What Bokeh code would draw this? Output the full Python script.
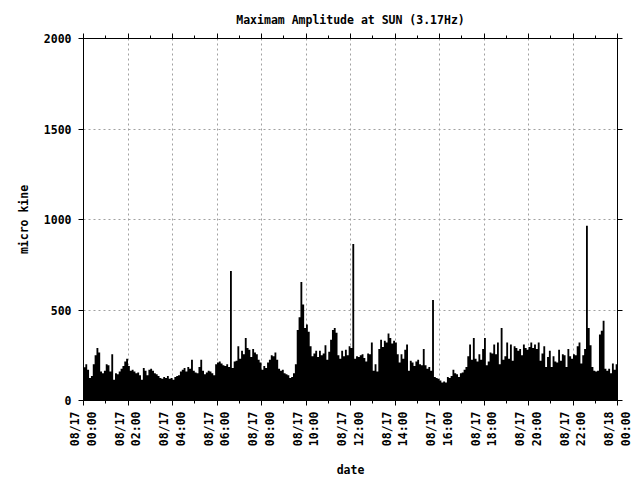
from bokeh.plotting import figure
from bokeh.models import FixedTicker, LinearAxis, Range1d, Grid, ColumnDataSource
from bokeh.embed import file_html
from bokeh.resources import INLINE

# ---- data (maximum amplitude, micro kine, one value per 5 minutes) ----
interval_min = 5
amp_00_06 = [184, 200, 170, 125, 135, 200, 250, 290, 265, 160, 150, 165,
             200, 195, 160, 255, 115, 150, 145, 160, 175, 190, 215, 230,
             190, 165, 170, 160, 150, 155, 140, 115, 180, 165, 140, 170,
             175, 165, 150, 145, 135, 125, 120, 130, 125, 135, 120, 125,
             115, 130, 135, 140, 160, 170, 180, 160, 185, 175, 225, 165,
             155, 150, 185, 225, 165, 145, 155, 165, 160, 150, 140, 200]
amp_06_12 = [210, 215, 205, 195, 190, 200, 185, 715, 180, 215, 220, 300,
             230, 275, 255, 345, 290, 280, 240, 285, 265, 255, 225, 210,
             170, 190, 180, 210, 225, 250, 245, 265, 225, 175, 165, 170,
             150, 145, 140, 125, 130, 150, 200, 390, 460, 655, 530, 400,
             420, 380, 300, 245, 260, 275, 240, 275, 250, 260, 305, 225,
             270, 335, 390, 400, 375, 250, 230, 275, 245, 280, 250, 300]
amp_12_18 = [290, 865, 230, 245, 240, 250, 255, 235, 215, 260, 255, 320,
             165, 200, 160, 285, 335, 295, 330, 320, 370, 345, 315, 330,
             320, 255, 210, 255, 230, 280, 310, 165, 220, 210, 190, 215,
             225, 200, 195, 285, 195, 175, 185, 165, 555, 130, 125, 120,
             110, 100, 105, 100, 130, 125, 135, 170, 150, 145, 130, 150,
             155, 170, 185, 245, 310, 225, 345, 230, 215, 255, 225, 285]
amp_18_24 = [345, 195, 215, 265, 260, 310, 255, 320, 200, 400, 225, 245,
             320, 230, 310, 220, 300, 290, 275, 285, 250, 310, 290, 280,
             295, 320, 290, 310, 285, 320, 220, 260, 300, 185, 240, 275,
             185, 245, 215, 210, 280, 220, 255, 250, 185, 285, 245, 230,
             255, 250, 300, 320, 205, 250, 285, 965, 400, 305, 185, 165,
             160, 165, 365, 385, 440, 175, 165, 175, 150, 205, 170, 200]
amplitude = amp_00_06 + amp_06_12 + amp_12_18 + amp_18_24

tick_hours = [0, 2, 4, 6, 8, 10, 12, 14, 16, 18, 20, 22, 24]
tick_labels = ["08/17\n00:00", "08/17\n02:00", "08/17\n04:00", "08/17\n06:00",
               "08/17\n08:00", "08/17\n10:00", "08/17\n12:00", "08/17\n14:00",
               "08/17\n16:00", "08/17\n18:00", "08/17\n20:00", "08/17\n22:00",
               "08/18\n00:00"]
minor_hours = list(range(0, 25))
y_ticks = [0, 500, 1000, 1500, 2000]

title_text = "Maximam Amplitude at SUN (3.17Hz)"
x_label = "date"
y_label = "micro kine"

# ---- build: each 5-minute sample holds its value over its interval ----
step_h = interval_min / 60.0
edge_x, edge_y = [], []
for i, v in enumerate(amplitude):
    edge_x += [i * step_h, (i + 1) * step_h]
    edge_y += [v, v]
src = ColumnDataSource(dict(x=edge_x, y=edge_y))

FONT = "DejaVu Sans Mono"
FS = "11.5px"

p = figure(width=640, height=480, output_backend="svg", toolbar_location=None,
           x_range=Range1d(0, 24), y_range=Range1d(0, 2000),
           x_axis_type=None, y_axis_type=None,
           min_border_left=83, min_border_right=23, min_border_top=38,
           min_border_bottom=80)
p.background_fill_color = "white"
p.border_fill_color = "white"
p.outline_line_color = "black"
p.outline_line_width = 1

xt = FixedTicker(ticks=tick_hours, minor_ticks=minor_hours)
yt = FixedTicker(ticks=y_ticks, minor_ticks=[])


def style(ax, labels=True, minor=True):
    ax.axis_line_color = "black"
    ax.major_tick_line_color = "black"
    ax.major_tick_in = 0
    ax.major_tick_out = 5
    if minor:
        ax.minor_tick_line_color = "black"
        ax.minor_tick_in = 0
        ax.minor_tick_out = 3
    else:
        ax.minor_tick_line_color = None
    ax.major_label_text_font = FONT
    ax.major_label_text_font_style = "bold"
    if labels:
        ax.major_label_text_color = "black"
        ax.major_label_text_font_size = FS
    else:
        # tick marks only: labels are not painted
        ax.major_label_text_color = None
        ax.major_label_text_font_size = "1px"
        ax.major_label_standoff = 0
    ax.axis_label_text_font = FONT
    ax.axis_label_text_font_style = "bold"
    ax.axis_label_text_font_size = FS
    ax.axis_label_text_color = "black"


xb = LinearAxis(ticker=xt, axis_label=x_label,
                major_label_overrides={h: lab for h, lab in zip(tick_hours, tick_labels)})
style(xb)
xb.major_label_orientation = 1.5707963267948966
xb.major_label_standoff = 6
xb.axis_label_standoff = 14

xa = LinearAxis(ticker=xt)
style(xa, labels=False)

yl = LinearAxis(ticker=yt, axis_label=y_label)
style(yl, minor=False)
yl.major_label_standoff = 7
yl.axis_label_standoff = 10

yr = LinearAxis(ticker=yt)
style(yr, labels=False, minor=False)

p.add_layout(xb, "below")
p.add_layout(xa, "above")
p.add_layout(yl, "left")
p.add_layout(yr, "right")

for dim, tk in ((0, xt), (1, yt)):
    g = Grid(dimension=dim, ticker=tk, grid_line_color="#a0a0a0",
             grid_line_dash="2 3", grid_line_width=1)
    p.add_layout(g)

p.varea(x="x", y1=0, y2="y", source=src, fill_color="black")

p.title.text = title_text
p.title.align = "center"
p.title.text_font = FONT
p.title.text_font_style = "bold"
p.title.text_font_size = FS
p.title.text_color = "black"
p.title.standoff = 14

open("out.html", "w").write(file_html(p, INLINE))
